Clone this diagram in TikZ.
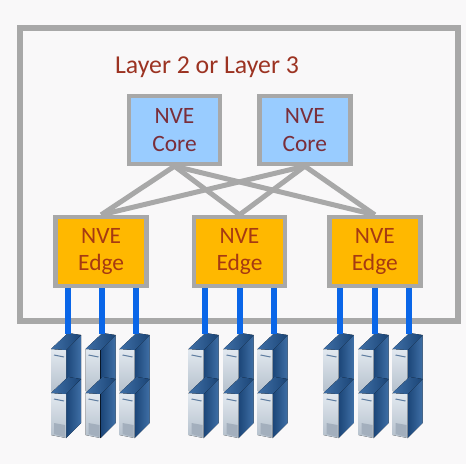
\documentclass[tikz,border=0pt]{standalone}
\usepackage{fontspec}
\setmainfont{Carlito}
\usepackage{xcolor}
\usetikzlibrary{positioning}

\definecolor{framegray}{HTML}{A8A8A8}
\definecolor{corefill}{HTML}{99CCFF}
\definecolor{edgefill}{HTML}{FFB800}
\definecolor{coretext}{HTML}{7A2E3A}
\definecolor{edgetext}{HTML}{A63A12}
\definecolor{layertext}{HTML}{9C3322}
\definecolor{linkblue}{HTML}{0A66E8}
\definecolor{pagebg}{HTML}{F9F8F9}
\definecolor{rackdark}{HTML}{1B4577}
\definecolor{rackmid}{HTML}{3F6FA6}
\definecolor{rackfront}{HTML}{E2E9F0}
\definecolor{rackfoot}{HTML}{B4BFCB}
\definecolor{rackgrill}{HTML}{A3AFBD}

\begin{document}
\begin{tikzpicture}[
	x=0.03cm, y=-0.03cm,
	box/.style={rectangle, draw=framegray, line width=0.13cm, minimum width=2.73cm, inner sep=0pt, align=center, font=\fontsize{20}{23.5}\selectfont},
	core/.style={box, fill=corefill, text=coretext, minimum height=2.04cm},
	edge box/.style={box, fill=edgefill, text=edgetext, minimum height=2.07cm},
	frame/.style={rectangle, draw=framegray, line width=0.17cm, minimum width=13.14cm, minimum height=8.79cm},
	uplink/.style={draw=framegray, line width=0.15cm},
	link/.style={draw=linkblue, line width=0.18cm},
	rack/.pic={
		% top of the stack
		\coordinate (-top) at (16.5,1);
		\foreach \dy in {0,44} {
			\fill[left color=rackdark, right color=rackmid] (15,17+\dy) -- (30,2+\dy) -- (30,46+\dy) -- (15,61+\dy) -- cycle;
			\fill[top color=rackfront, bottom color=rackfoot] (0,16+\dy) -- (15,17+\dy) -- (15,61+\dy) -- (0,58+\dy) -- cycle;
			\fill[left color=rackmid, right color=rackdark] (0,16+\dy) -- (15,17+\dy) -- (30,2+\dy) -- (17,0+\dy) -- cycle;
			\draw[rackdark!70, line width=0.03cm] (3,22+\dy) -- (13,24+\dy);
		}
		\fill[rackgrill] (3,46+44) -- (14,48+44) -- (14,60+44) -- (3,57+44) -- cycle;
	}
	]
	
	% page and outer frame
	\fill[pagebg] (0,0) rectangle (466,464);
	\node[frame] (cloud) at (239,174.5) {};
	\node[text=layertext, font=\fontsize{22}{26}\selectfont] (layer) at (207,67) {Layer 2 or Layer 3};
	
	% core switches
	\node[core] (c1) at (174.5,130) {NVE\\Core};
	\node[core] (c2) [right=1.05cm of c1] {NVE\\Core};
	
	% edge switches
	\node[edge box] (e2) at (239.5,251.5) {NVE\\Edge};
	\node[edge box] (e1) [left=1.29cm of e2] {NVE\\Edge};
	\node[edge box] (e3) [right=1.2cm of e2] {NVE\\Edge};
	
	% fabric between core and edge
	\draw[uplink] (c1.south) -- (e1.north);
	\draw[uplink] (c1.south) -- (e2.north);
	\draw[uplink] (c1.south) -- (e3.north);
	\draw[uplink] (c2.south) -- (e1.north);
	\draw[uplink] (c2.south) -- (e2.north);
	\draw[uplink] (c2.south) -- (e3.north);
	
	% servers
	\pic (s11) at (51,333) {rack};
	\pic (s12) at (85.5,333) {rack};
	\pic (s13) at (119.5,333) {rack};
	\pic (s21) at (188.5,333) {rack};
	\pic (s22) at (223.5,333) {rack};
	\pic (s23) at (257.5,333) {rack};
	\pic (s31) at (323.5,333) {rack};
	\pic (s32) at (358.5,333) {rack};
	\pic (s33) at (392.5,333) {rack};
	
	% links down to the servers
	\draw[link] (e1.south -| s11-top) -- (s11-top);
	\draw[link] (e1.south -| s12-top) -- (s12-top);
	\draw[link] (e1.south -| s13-top) -- (s13-top);
	\draw[link] (e2.south -| s21-top) -- (s21-top);
	\draw[link] (e2.south -| s22-top) -- (s22-top);
	\draw[link] (e2.south -| s23-top) -- (s23-top);
	\draw[link] (e3.south -| s31-top) -- (s31-top);
	\draw[link] (e3.south -| s32-top) -- (s32-top);
	\draw[link] (e3.south -| s33-top) -- (s33-top);
	
\end{tikzpicture}
\end{document}
